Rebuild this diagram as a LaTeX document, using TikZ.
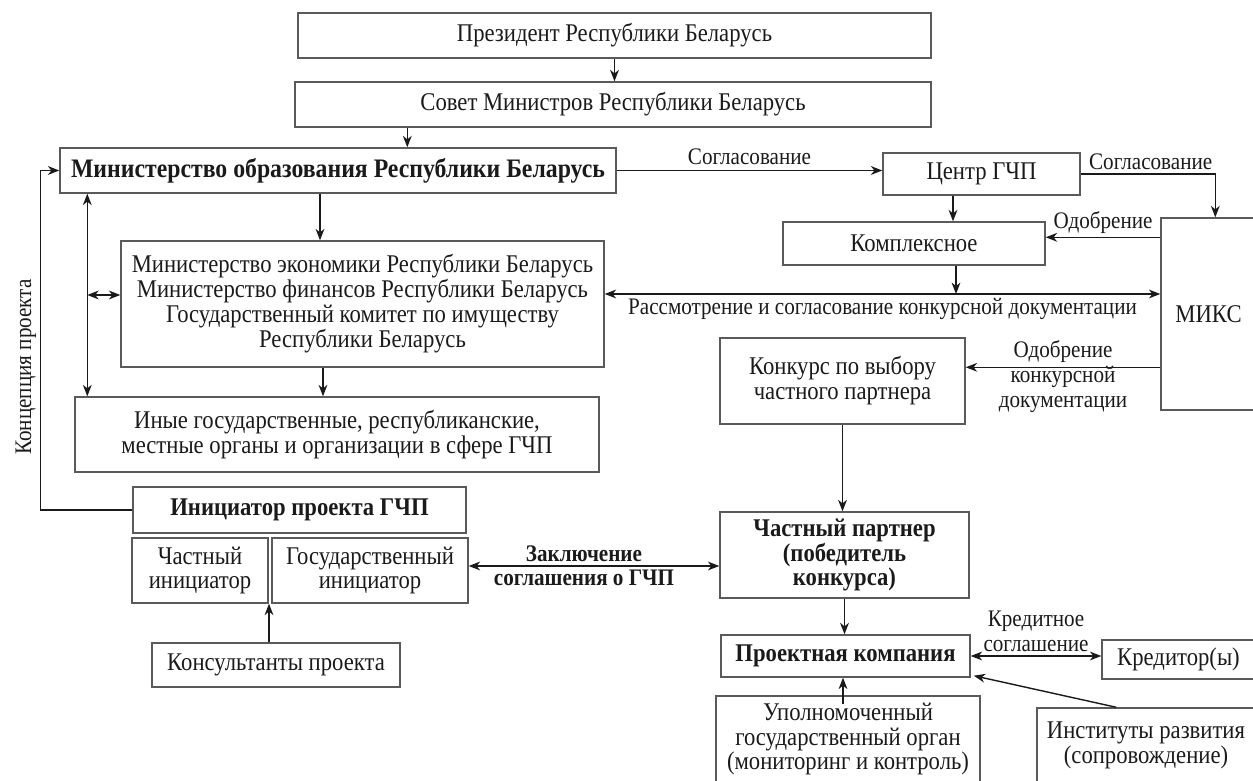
\documentclass[tikz,border=0pt]{standalone}
\usepackage{fontspec}
\setmainfont{Liberation Serif}[FakeStretch=0.89]
\usepackage{tikz}
\usetikzlibrary{arrows.meta}
\definecolor{framegray}{HTML}{5A5A5A}
\definecolor{inkgray}{HTML}{1A1A1A}
\newcommand{\boxfs}{\fontsize{14.5}{14.2}\selectfont}
\newcommand{\headfs}{\fontsize{15.2}{14.2}\selectfont}
\newcommand{\lblfs}{\fontsize{13.5}{14.2}\selectfont}

\begin{document}
\begin{tikzpicture}[
 orgbox/.style={rectangle,draw=framegray,line width=0.8pt,inner sep=1pt,align=center,text=inkgray,font=\boxfs},
 keybox/.style={orgbox,font=\boxfs\bfseries},
 flow/.style={-{Stealth[length=6.5pt,width=5pt,inset=2pt]},line width=0.8pt,draw=inkgray},
 twoway/.style={{Stealth[length=6.5pt,width=5pt,inset=2pt]}-{Stealth[length=6.5pt,width=5pt,inset=2pt]},line width=0.8pt,draw=inkgray},
 flowlabel/.style={font=\lblfs,text=inkgray,align=center,inner sep=2pt}]
\useasboundingbox (0,0) rectangle (25.06,15.62);

% Upper level of state bodies.
\node[orgbox,minimum width=12.66cm,minimum height=0.90cm] (pres) at (12.29,14.91) {Президент Республики Беларусь};
\node[orgbox,minimum width=12.72cm,minimum height=0.90cm] (sovet) at (12.26,13.53) {Совет Министров Республики Беларусь};
\node[keybox,font=\headfs\bfseries,minimum width=11.12cm,minimum height=0.90cm] (minobr) at (6.76,12.21) {Министерство образования Республики Беларусь};
\node[orgbox,minimum width=9.66cm,minimum height=2.52cm] (minist) at (7.25,9.54) {Министерство экономики Республики Беларусь\\Министерство финансов Республики Беларусь\\Государственный комитет по имуществу\\Республики Беларусь};
\node[orgbox,minimum width=10.48cm,minimum height=1.50cm] (inye) at (6.74,6.93) {Иные государственные, республиканские,\\местные органы и организации в сфере ГЧП};

% Approval chain on the right (MIKS runs past the page edge).
\node[orgbox,minimum width=3.94cm,minimum height=0.84cm] (centr) at (19.63,12.14) {Центр ГЧП};
\node[orgbox,minimum width=5.24cm,minimum height=0.86cm] (kompl) at (18.28,10.75) {Комплексное};
\node[orgbox,minimum width=1.90cm,minimum height=3.84cm] (miks) at (24.17,9.34) {МИКС};
\node[orgbox,minimum width=4.90cm,minimum height=1.72cm] (konkurs) at (16.85,8.00) {Конкурс по выбору\\частного партнера};

% Initiator block.
\node[keybox,minimum width=6.66cm,minimum height=0.92cm] (initiator) at (5.99,5.42) {Инициатор проекта ГЧП};
\node[orgbox,minimum width=2.72cm,minimum height=1.30cm] (chastin) at (4.00,4.21) {Частный\\инициатор};
\node[orgbox,minimum width=3.92cm,minimum height=1.30cm] (gosin) at (7.40,4.21) {Государственный\\инициатор};
\node[orgbox,minimum width=4.96cm,minimum height=0.88cm] (konsult) at (5.52,2.32) {Консультанты проекта};

% Partner side.
\node[keybox,minimum width=4.98cm,minimum height=1.72cm] (partner) at (16.89,4.52) {Частный партнер\\(победитель\\конкурса)};
\node[keybox,minimum width=4.98cm,minimum height=0.84cm] (proekt) at (16.91,2.50) {Проектная компания};
\node[orgbox,minimum width=3.06cm,minimum height=0.78cm] (kredit) at (23.57,2.43) {Кредитор(ы)};
\node[orgbox,minimum width=5.28cm,minimum height=1.72cm] (upoln) at (16.96,0.84) {Уполномоченный\\государственный орган\\(мониторинг и контроль)};
\node[orgbox,minimum width=4.36cm,minimum height=1.48cm] (institut) at (22.92,0.72) {Институты развития\\(сопровождение)};

\node[flowlabel,rotate=90] (konc) at (0.52,8.28) {Концепция проекта};

% Helper points for the offset connectors.
\coordinate (vline) at ([xshift=0.56cm]minobr.south west);
\coordinate (sideL) at ([yshift=0.18cm]minist.west);
\coordinate (rassmL) at ([yshift=0.20cm]minist.east);
\coordinate (zaklL) at ([yshift=0.09cm]gosin.east);

% Top-down subordination.
\draw[flow] (pres.south) -- (pres.south |- sovet.north);
\draw[flow] ([xshift=2.26cm]sovet.south west) -- ([xshift=2.26cm]sovet.south west |- minobr.north);
\draw[flow] ([xshift=-0.36cm]minobr.south) -- ([xshift=-0.36cm]minobr.south |- minist.north);
\draw[flow] ([xshift=-0.79cm]minist.south) -- ([xshift=-0.79cm]minist.south |- inye.north);
\draw[twoway] (vline) -- (vline |- inye.north);
\draw[twoway] (sideL -| vline) -- (sideL);

% Concept loop back to the ministry.
\draw[flow] (initiator.west) -| ([xshift=-0.38cm]minobr.west) -- (minobr.west);

% Approvals.
\draw[flow] (minobr.east) -- (minobr.east -| centr.west) node[flowlabel,midway,above=1pt] {Согласование};
\draw[flow] (centr.east) -| ([xshift=1.10cm]miks.north west) node[flowlabel,pos=0.26,above] {Согласование};
\draw[flow] ([xshift=-0.57cm]centr.south) -- ([xshift=-0.57cm]centr.south |- kompl.north);
\draw[flow] ([yshift=-0.40cm]miks.north west) -- ([yshift=-0.40cm]miks.north west -| kompl.east) node[flowlabel,midway,above] {Одобрение};
\draw[flow] ([xshift=0.84cm]kompl.south) -- ([xshift=0.84cm]kompl.south |- rassmL);
\draw[twoway] (rassmL) -- (rassmL -| miks.west) node[flowlabel,midway,below] {Рассмотрение и согласование конкурсной документации};
\draw[flow] ([yshift=-3.00cm]miks.north west) -- ([yshift=-3.00cm]miks.north west -| konkurs.east) node[flowlabel,midway,yshift=-0.18cm] {Одобрение\\конкурсной\\документации};

% Contract and project company.
\draw[flow] (konkurs.south) -- (konkurs.south |- partner.north);
\draw[twoway] (zaklL) -- (zaklL -| partner.west) node[flowlabel,midway,above,xshift=-0.2cm,font=\lblfs\bfseries] {Заключение} node[flowlabel,midway,below,xshift=-0.2cm,font=\lblfs\bfseries] {соглашения о ГЧП};
\draw[flow] ([xshift=-0.14cm]konsult.north) -- ([xshift=-0.14cm]konsult.north |- chastin.south);
\draw[flow] (partner.south) -- (partner.south |- proekt.north);
\draw[twoway] (proekt.east) -- (proekt.east -| kredit.west) node[flowlabel,midway,above] {Кредитное\\соглашение};
\draw[flow] ([xshift=-0.10cm,yshift=-0.18cm]upoln.north) -- ([xshift=-0.10cm]upoln.north |- proekt.south);
\draw[flow] ([xshift=1.60cm]institut.north west) -- ([xshift=0.06cm,yshift=0.04cm]proekt.south east);
\end{tikzpicture}
\end{document}
